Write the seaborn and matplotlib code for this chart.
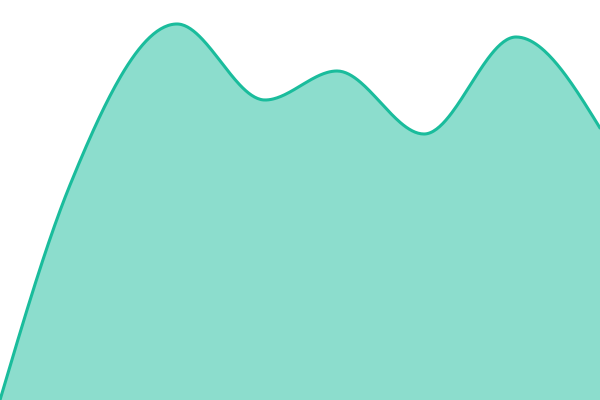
import numpy as np
import pandas as pd
import matplotlib
matplotlib.use("Agg")
import matplotlib.pyplot as plt
import seaborn as sns

sns.set_theme(style="white")

# values (canvas units, 0 = bottom)
positions = [0, 70, 177, 265, 337, 424, 516, 600]
values = [0, 215, 376, 300, 329, 266, 363, 272]

LINE = "#1abc9c"


def monotone_x(x, y, n=60):
    # smooth monotone cubic like d3.curveMonotoneX
    x = np.asarray(x, float)
    y = np.asarray(y, float)
    h = np.diff(x)
    s = np.diff(y) / h
    t = np.zeros(len(x))
    for i in range(1, len(x) - 1):
        p = (s[i - 1] * h[i] + s[i] * h[i - 1]) / (h[i - 1] + h[i])
        t[i] = (np.sign(s[i - 1]) + np.sign(s[i])) * min(abs(s[i - 1]), abs(s[i]), 0.5 * abs(p))
    t[0] = (3 * s[0] - t[1]) / 2
    t[-1] = (3 * s[-1] - t[-2]) / 2
    xs, ys = [], []
    u = np.linspace(0, 1, n)
    for i in range(len(h)):
        dx = h[i] / 3
        px = [x[i], x[i] + dx, x[i + 1] - dx, x[i + 1]]
        py = [y[i], y[i] + dx * t[i], y[i + 1] - dx * t[i + 1], y[i + 1]]
        b = [(1 - u) ** 3, 3 * u * (1 - u) ** 2, 3 * u ** 2 * (1 - u), u ** 3]
        xs.append(sum(bk * pk for bk, pk in zip(b, px)))
        ys.append(sum(bk * pk for bk, pk in zip(b, py)))
    return np.concatenate(xs), np.concatenate(ys)


cx, cy = monotone_x(positions, values)
curve = pd.DataFrame({"x": cx, "y": cy})

fig = plt.figure(figsize=(6, 4), dpi=100)
ax = fig.add_axes([0, 0, 1, 1])
ax.fill_between(curve["x"], curve["y"], 0, color=LINE, alpha=0.5, linewidth=0)
sns.lineplot(data=curve, x="x", y="y", ax=ax, color=LINE, linewidth=2.2, sort=False)
ax.set_xlim(0, 600)
ax.set_ylim(0, 400)
ax.axis("off")

fig.savefig("out.png", dpi=100)
